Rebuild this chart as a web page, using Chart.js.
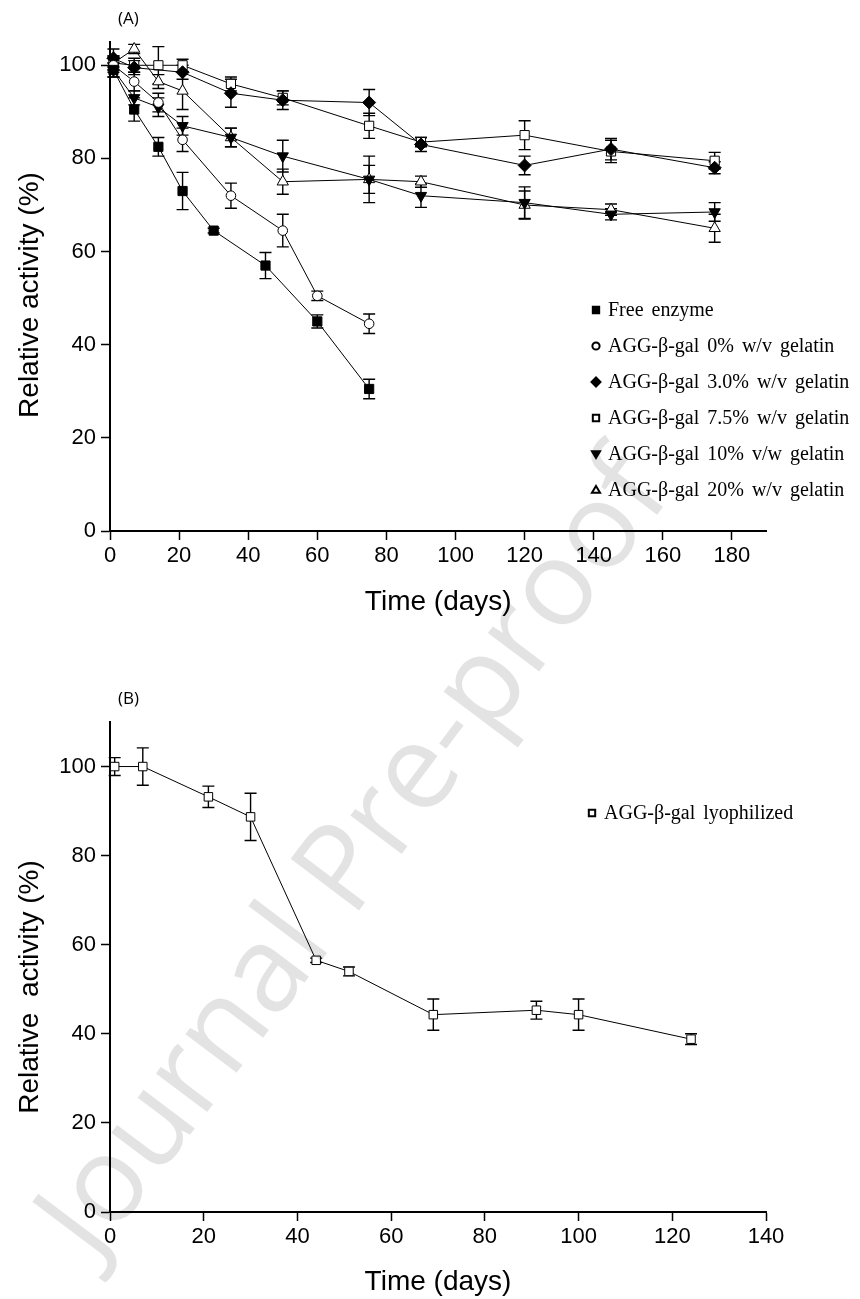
<!DOCTYPE html>
<html>
<head>
<meta charset="utf-8">
<script src="https://cdn.jsdelivr.net/npm/chart.js@4.4.1/dist/chart.umd.min.js"></script>
<style>
  body { margin: 0; background: #fff; }
  #page { position: relative; width: 860px; height: 1299px; overflow: hidden; background: #fff; }
  #wrapA { position: absolute; left: 0; top: 0; }
  #wrapB { position: absolute; left: 0; top: 640px; }
  .tag { position: absolute; font-family: 'Open Sans', sans-serif; font-size: 17px; color: #000; }
  #mark {
    position: absolute; left: 347px; top: 850px; white-space: nowrap; line-height: 1;
    font-family: 'Open Sans', sans-serif; font-size: 120px; color: rgba(0, 0, 0, 0.11);
    transform: translate(-50%, -50%) rotate(-53deg); pointer-events: none;
  }
</style>
</head>
<body>
<div id="page">
  <div id="wrapA"><canvas id="chartA" width="860" height="640"></canvas></div>
  <div id="wrapB"><canvas id="chartB" width="860" height="659"></canvas></div>
  <div class="tag" style="left:118px; top:6px;">(A)</div>
  <div class="tag" style="left:118px; top:686px;">(B)</div>
  <div id="mark">Journal Pre-proof</div>
</div>
<script>
// ---- panel A : residual activity during storage ----
const freeDays = [1, 7, 14, 21, 30, 45, 60, 75];
const freeVals = [99, 90.5, 82.5, 73, 64.5, 57, 45, 30.5];
const freeErr  = [1.5, 2.5, 2, 4, 0.5, 2.8, 1.4, 2.1];

const gel0Days = [1, 7, 14, 21, 35, 50, 60, 75];
const gel0Vals = [100, 96.5, 92, 84, 72, 64.5, 50.5, 44.5];
const gel0Err  = [1.5, 2, 2, 2.5, 2.7, 3.5, 1, 2.1];

const gel3Days = [1, 7, 21, 35, 50, 75, 90, 120, 145, 175];
const gel3Vals = [101.5, 99.5, 98.5, 94, 92.5, 92, 83, 78.5, 82, 78];
const gel3Err  = [2, 1.5, 1.5, 3, 2, 2.8, 1.5, 2, 2.3, 1.3];

const longDays = [1, 7, 14, 21, 35, 50, 75, 90, 120, 145, 175];
const gel75Vals = [100.5, 100, 100, 100, 96, 93, 87, 83.5, 85, 81.5, 79.5];
const gel75Err  = [1.5, 1.5, 4, 1.3, 1.5, 1.5, 2.7, 1, 3.1, 2.4, 1.8];
const gel10Vals = [99, 93, 91, 87, 84.5, 80.5, 75.5, 72, 70.5, 68, 68.5];
const gel10Err  = [1.5, 1.5, 2, 2, 2, 3.4, 5, 2.5, 3.4, 1.2, 2];
const gel20Vals = [100.5, 103.5, 96.5, 94.5, 84.5, 75, 75.5, 75, 70, 69, 65];
const gel20Err  = [1.5, 1, 1.5, 4, 2, 2.7, 3, 1.2, 3, 1.2, 3];

const labelsA = [
  'Free enzyme',
  'AGG-\u03b2-gal 0% w/v gelatin',
  'AGG-\u03b2-gal 3.0% w/v gelatin',
  'AGG-\u03b2-gal 7.5% w/v gelatin',
  'AGG-\u03b2-gal 10% v/w gelatin',
  'AGG-\u03b2-gal 20% w/v gelatin'
];

// ---- panel B : lyophilized ----
const lyoDays = [1, 7, 21, 30, 44, 51, 69, 91, 100, 124];
const lyoVals = [100, 100, 93.2, 88.7, 56.5, 54, 44.3, 45.3, 44.3, 38.8];
const lyoErr  = [2, 4.2, 2.4, 5.3, 0.5, 1, 3.5, 2, 3.5, 1.2];
const labelsB = ['AGG-\u03b2-gal lyophilized'];

const sans = "'Liberation Sans', Arial, sans-serif";
const tickFont = { family: sans, size: 22 };
const titleFont = { family: sans, size: 28 };

function points(days, vals) {
  return days.map((d, i) => ({ x: d, y: vals[i] }));
}

function series(label, days, vals, errs, style) {
  return Object.assign({
    label: label,
    data: points(days, vals),
    errors: errs,
    borderColor: '#000',
    borderWidth: 1,
    tension: 0,
    pointBorderColor: '#000',
    pointBorderWidth: 1,
    pointRadius: 5,
    pointHoverRadius: 5,
    clip: false
  }, style);
}

// draws a marker like the chart points, used for the in-plot legend
function drawMarker(ctx, ds, x, y, r) {
  ctx.save();
  ctx.beginPath();
  const style = ds.pointStyle || 'circle';
  if (style === 'rect') {
    const s = r * Math.SQRT1_2;
    ctx.rect(x - s, y - s, 2 * s, 2 * s);
  } else if (style === 'rectRot') {
    ctx.moveTo(x, y - r); ctx.lineTo(x + r, y); ctx.lineTo(x, y + r); ctx.lineTo(x - r, y);
    ctx.closePath();
  } else if (style === 'triangle') {
    const dir = ds.pointRotation === 180 ? -1 : 1;
    const h = r * 1.5;
    ctx.moveTo(x, y - dir * h * 0.6);
    ctx.lineTo(x + r * 0.9, y + dir * h * 0.4);
    ctx.lineTo(x - r * 0.9, y + dir * h * 0.4);
    ctx.closePath();
  } else {
    ctx.arc(x, y, r * 0.8, 0, Math.PI * 2);
  }
  ctx.fillStyle = ds.pointBackgroundColor;
  ctx.fill();
  ctx.lineWidth = 2;
  ctx.strokeStyle = '#000';
  ctx.stroke();
  ctx.restore();
}

// vertical error bars with caps, drawn under the markers
const errorBars = {
  id: 'errorBars',
  beforeDatasetsDraw(chart) {
    const ctx = chart.ctx;
    const yScale = chart.scales.y;
    ctx.save();
    ctx.strokeStyle = '#000';
    ctx.lineWidth = 1.4;
    chart.data.datasets.forEach((ds, i) => {
      const meta = chart.getDatasetMeta(i);
      meta.data.forEach((pt, j) => {
        const err = ds.errors[j];
        const v = ds.data[j].y;
        const top = yScale.getPixelForValue(v + err);
        const bot = yScale.getPixelForValue(v - err);
        ctx.beginPath();
        ctx.moveTo(pt.x, top); ctx.lineTo(pt.x, bot);
        ctx.moveTo(pt.x - 6, top); ctx.lineTo(pt.x + 6, top);
        ctx.moveTo(pt.x - 6, bot); ctx.lineTo(pt.x + 6, bot);
        ctx.stroke();
      });
    });
    ctx.restore();
  }
};

// legend written inside the plot, like the original figure
const innerLegend = {
  id: 'innerLegend',
  afterDraw(chart, args, opts) {
    const ctx = chart.ctx;
    ctx.save();
    ctx.font = '20px "Liberation Serif", "Times New Roman", serif';
    ctx.fillStyle = '#000';
    ctx.textBaseline = 'middle';
    if ('wordSpacing' in ctx) ctx.wordSpacing = '3px';
    chart.data.datasets.forEach((ds, i) => {
      const y = opts.top + i * opts.step;
      drawMarker(ctx, ds, opts.x, y, 4.5);
      ctx.fillText(ds.label, opts.x + 12, y + 1);
    });
    ctx.restore();
  }
};

// vertical axis title, placed where the original has it
const sideTitle = {
  id: 'sideTitle',
  afterDraw(chart, args, opts) {
    const ctx = chart.ctx;
    ctx.save();
    ctx.translate(opts.x, opts.y);
    ctx.rotate(-Math.PI / 2);
    ctx.font = titleFont.size + 'px ' + sans;
    ctx.fillStyle = '#000';
    ctx.textAlign = 'center';
    ctx.textBaseline = 'middle';
    ctx.fillText(opts.text, 0, 0);
    ctx.restore();
  }
};

function axes(xMax, yMax, xHeight, xTitlePad) {
  const grid = { display: true, drawOnChartArea: false, drawTicks: true, tickLength: 9, tickWidth: 1.5, tickColor: '#000' };
  const border = { display: true, color: '#000', width: 2 };
  return {
    x: {
      type: 'linear', min: 0, max: xMax,
      afterFit: s => { s.height = xHeight; },
      grid: grid, border: border,
      ticks: { stepSize: 20, includeBounds: false, color: '#000', font: tickFont, padding: 3, maxRotation: 0 },
      title: { display: true, text: 'Time (days)', color: '#000', font: titleFont, padding: { top: 0, bottom: xTitlePad } }
    },
    y: {
      min: 0, max: yMax,
      afterFit: s => { s.width = 110; },
      grid: grid, border: border,
      ticks: { stepSize: 20, includeBounds: false, color: '#000', font: tickFont, padding: 5 }
    }
  };
}

new Chart(document.getElementById('chartA'), {
  type: 'line',
  data: {
    datasets: [
      series(labelsA[0], freeDays, freeVals, freeErr, { pointStyle: 'rect', pointRadius: 6.5, pointBackgroundColor: '#000' }),
      series(labelsA[1], gel0Days, gel0Vals, gel0Err, { pointStyle: 'circle', pointRadius: 4.8, pointBackgroundColor: '#fff' }),
      series(labelsA[2], gel3Days, gel3Vals, gel3Err, { pointStyle: 'rectRot', pointRadius: 6.5, pointBackgroundColor: '#000' }),
      series(labelsA[3], longDays, gel75Vals, gel75Err, { pointStyle: 'rect', pointRadius: 6.5, pointBackgroundColor: '#fff' }),
      series(labelsA[4], longDays, gel10Vals, gel10Err, { pointStyle: 'triangle', pointRotation: 180, pointRadius: 6.5, pointBackgroundColor: '#000' }),
      series(labelsA[5], longDays, gel20Vals, gel20Err, { pointStyle: 'triangle', pointRadius: 6.5, pointBackgroundColor: '#fff' })
    ]
  },
  options: {
    responsive: false,
    animation: false,
    devicePixelRatio: 1,
    layout: { padding: { left: 0, top: 42, right: 93.5, bottom: 0 } },
    plugins: {
      legend: { display: false },
      tooltip: { enabled: false },
      innerLegend: { x: 596, top: 310, step: 36 },
      sideTitle: { text: 'Relative activity (%)', x: 30, y: 295 }
    },
    scales: axes(190, 105, 109, 21)
  },
  plugins: [errorBars, innerLegend, sideTitle]
});

new Chart(document.getElementById('chartB'), {
  type: 'line',
  data: {
    datasets: [
      series(labelsB[0], lyoDays, lyoVals, lyoErr, { pointStyle: 'rect', pointRadius: 6, pointBackgroundColor: '#fff' })
    ]
  },
  options: {
    responsive: false,
    animation: false,
    devicePixelRatio: 1,
    layout: { padding: { left: 0, top: 82, right: 94, bottom: 0 } },
    plugins: {
      legend: { display: false },
      tooltip: { enabled: false },
      innerLegend: { x: 592, top: 173, step: 0 },
      sideTitle: { text: 'Relative  activity (%)', x: 30, y: 347 }
    },
    scales: axes(140, 110, 87, 0)
  },
  plugins: [errorBars, innerLegend, sideTitle]
});
</script>
</body>
</html>
